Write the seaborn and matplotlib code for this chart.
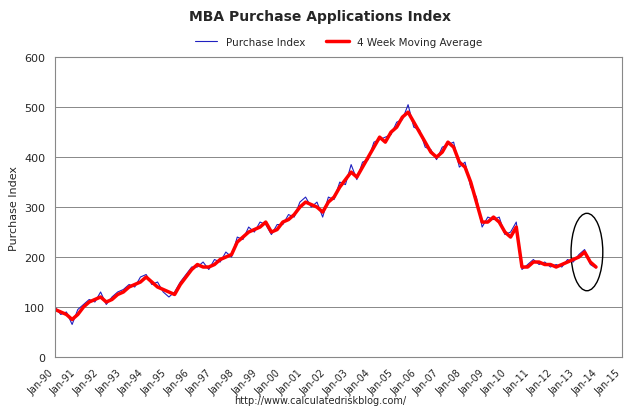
import matplotlib
matplotlib.use("Agg")
import matplotlib.pyplot as plt
import seaborn as sns
import pandas as pd
import numpy as np
from matplotlib.patches import Ellipse

sns.set_style("white")
plt.rcParams['font.family'] = ['DejaVu Sans']

start_year = 1990.0
ma_values = [95, 90, 85, 75, 85, 100, 110, 115, 120, 110, 115, 125,
             130, 140, 145, 150, 160, 150, 140, 135, 130, 125, 145, 160,
             175, 185, 180, 180, 185, 195, 200, 205, 230, 240, 250, 255,
             260, 270, 250, 255, 270, 275, 285, 300, 310, 305, 300, 290,
             310, 320, 340, 355, 370, 360, 380, 400, 420, 440, 430, 450,
             460, 480, 490, 470, 450, 430, 410, 400, 410, 430, 420, 390,
             380, 350, 310, 270, 270, 280, 270, 250, 240, 260, 180, 180,
             190, 190, 185, 185, 180, 185, 190, 195, 200, 210, 190, 180]
raw_values = [100, 85, 90, 65, 95, 105, 115, 110, 130, 105, 120, 130,
              135, 145, 140, 160, 165, 145, 150, 130, 120, 130, 150, 165,
              180, 180, 190, 175, 195, 190, 210, 200, 240, 235, 260, 250,
              270, 265, 245, 265, 265, 285, 280, 310, 320, 300, 310, 280,
              320, 315, 350, 345, 385, 355, 390, 395, 430, 435, 440, 445,
              470, 475, 505, 460, 455, 420, 415, 395, 420, 425, 430, 380,
              390, 340, 320, 260, 280, 275, 280, 245, 250, 270, 175, 185,
              195, 185, 190, 180, 185, 180, 195, 190, 205, 215, 185, 178]
tick_labels = ["Jan-90", "Jan-91", "Jan-92", "Jan-93", "Jan-94", "Jan-95", "Jan-96",
               "Jan-97", "Jan-98", "Jan-99", "Jan-00", "Jan-01", "Jan-02", "Jan-03",
               "Jan-04", "Jan-05", "Jan-06", "Jan-07", "Jan-08", "Jan-09", "Jan-10",
               "Jan-11", "Jan-12", "Jan-13", "Jan-14", "Jan-15"]

t = start_year + np.arange(len(ma_values)) * 0.25 * (23.85 / 23.75)
df = pd.DataFrame({"t": t, "raw": raw_values, "ma": ma_values})

fig, ax = plt.subplots(figsize=(6.4, 4.1), dpi=100)
fig.subplots_adjust(left=0.086, right=0.972, top=0.858, bottom=0.127)
sns.lineplot(data=df, x="t", y="raw", ax=ax, color="#2020c0", lw=0.8, label="Purchase Index")
sns.lineplot(data=df, x="t", y="ma", ax=ax, color="red", lw=2.5, label="4 Week Moving Average")

ax.set_xlim(1990, 2015)
ax.set_ylim(0, 600)
ax.set_yticks(range(0, 601, 100))
ax.set_xticks(np.arange(1990, 2016))
ax.set_xticklabels(tick_labels, rotation=45, ha="right", fontsize=7)
ax.tick_params(axis="y", labelsize=8)
ax.yaxis.grid(True, color="#888888", lw=0.7)
for s in ax.spines.values():
    s.set_color("#888888")
ax.set_xlabel("")
ax.set_ylabel("Purchase Index", fontsize=8)
ax.add_patch(Ellipse((2013.45, 210), 1.4, 155, fill=False, color="black", lw=1))
fig.suptitle("MBA Purchase Applications Index", fontsize=10, fontweight="bold", y=0.975)
ax.legend(loc="upper center", bbox_to_anchor=(0.5, 1.1), ncol=2, frameon=False,
          fontsize=7.5, handlelength=2.2)
fig.text(0.5, 0.015, "http://www.calculatedriskblog.com/", ha="center", fontsize=7)
fig.savefig("out.png", dpi=100)
